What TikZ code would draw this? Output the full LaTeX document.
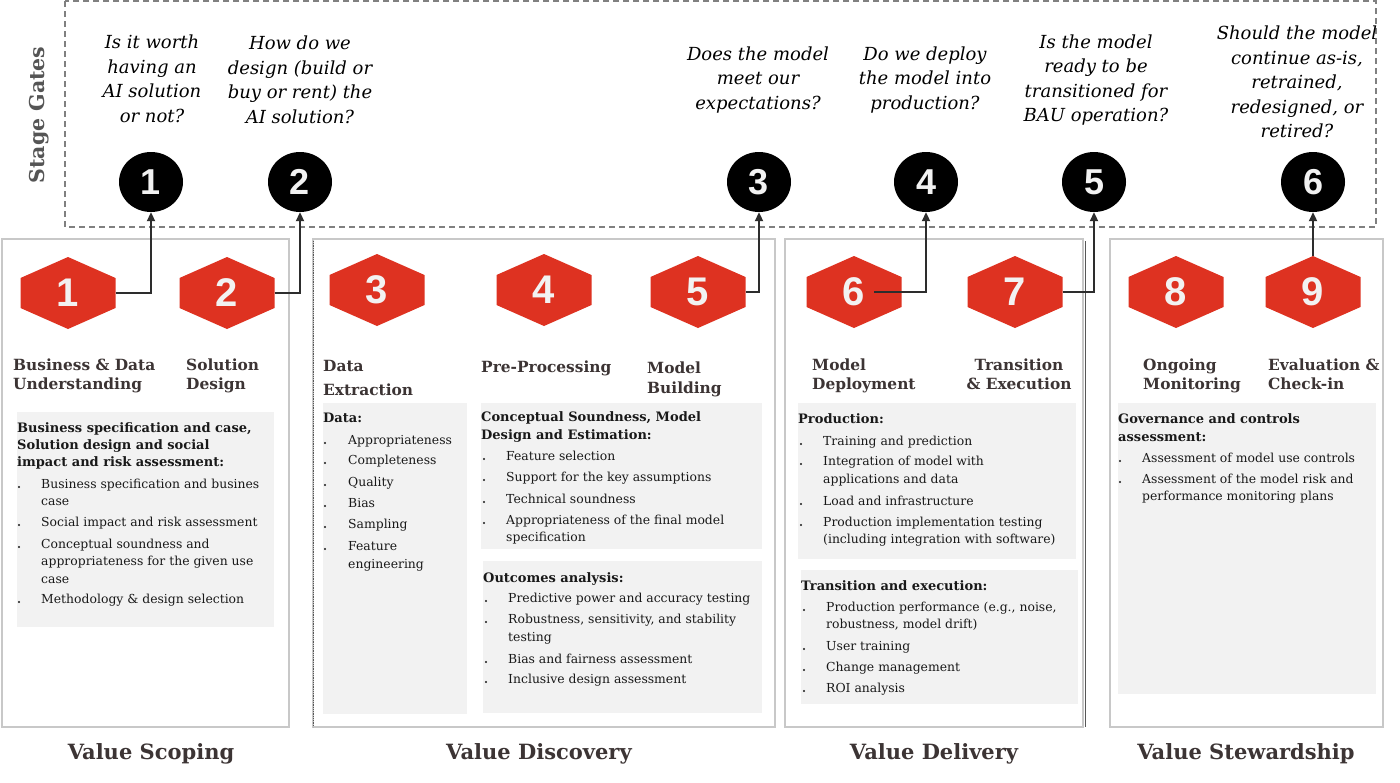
\documentclass[tikz,border=0pt]{standalone}
\usepackage{fontspec}
\setmainfont{DejaVu Serif}
\newfontfamily\numfont{Liberation Sans}
\usetikzlibrary{arrows.meta,shapes.geometric}
\definecolor{hexred}{RGB}{222,50,33}
\definecolor{boxline}{RGB}{200,200,200}
\definecolor{panel}{RGB}{242,242,242}
\definecolor{headcol}{RGB}{60,52,52}
\definecolor{textcol}{RGB}{25,25,25}
\definecolor{gatecol}{RGB}{128,128,128}
\definecolor{conncol}{RGB}{45,45,45}
\definecolor{sgcol}{RGB}{85,85,85}
\tikzset{
 phase/.style={draw=boxline, line width=2pt},
 body/.style={anchor=west, inner sep=0pt, text=textcol, font=\fontsize{12.4}{14}\selectfont, text height=9.5pt, text depth=3pt},
 bodyhead/.style={body, font=\bfseries\fontsize{13}{15}\selectfont},
 stagelabel/.style={anchor=west, inner sep=0pt, text=headcol, font=\bfseries\fontsize{15.4}{18}\selectfont, text height=11.5pt, text depth=3.5pt},
 question/.style={align=center, inner sep=0pt, text=black, font=\itshape\fontsize{18}{24.5}\selectfont},
 gate/.style={ellipse, fill=black, minimum width=64pt, minimum height=60pt, inner sep=0pt, text=white!95!black, font=\numfont\bfseries\fontsize{36}{36}\selectfont},
 hexnum/.style={minimum width=95pt, minimum height=72pt, inner sep=0pt, text=white!95!black, font=\numfont\bfseries\fontsize{40}{40}\selectfont},
 conn/.style={draw=conncol, line width=2pt, -{Triangle[length=9pt,width=8pt]}},
 phasetitle/.style={inner sep=0pt, text=headcol, font=\bfseries\fontsize{21}{24}\selectfont},
}
\newcommand{\hexa}[4]{%
  \fill[hexred] (#2,#3) ++(0,-36) -- ++(47.5,21) -- ++(0,30) -- ++(-47.5,21) -- ++(-47.5,-21) -- ++(0,-30) -- cycle;
  \node[hexnum] (#1) at (#2,#3) {#4};}
\newcommand{\blist}[4]{%
  \foreach \k/\bl/\y/\tx in {#4}{%
    \node[body] (#1\k) at (#3,\y) {\tx};
    \ifnum\bl=1 \fill[textcol] (#2,\y+2) circle (1.1pt);\fi
  }}
\begin{document}
\begin{tikzpicture}[x=1pt,y=-1pt]
\useasboundingbox (0,0) rectangle (1400,782);
\fill[white] (0,0) rectangle (1400,782);

% stage gate region
\draw[gatecol, line width=1.5pt, dash pattern=on 6pt off 4pt] (65,1) rectangle (1376,227);
\node[rotate=90, inner sep=0pt, text=sgcol, font=\bfseries\fontsize{20.5}{24}\selectfont] (sg) at (39,115) {Stage Gates};

\node[question] (q1) at (152,79) {Is it worth\\having an\\AI solution\\or not?};
\node[question] (q2) at (300,80) {How do we\\design (build or\\buy or rent) the\\AI solution?};
\node[question] (q3) at (758,80) {Does the model\\meet our\\expectations?};
\node[question] (q4) at (925,80) {Do we deploy\\the model into\\production?};
\node[question] (q5) at (1096,80) {Is the model\\ready to be\\transitioned for\\BAU operation?};
\node[question] (q6) at (1297,82) {Should the model\\continue as-is,\\retrained,\\redesigned, or\\retired?};

\node[gate] (g1) at (151,182) {1};
\node[gate] (g2) at (300,182) {2};
\node[gate] (g3) at (759,182) {3};
\node[gate] (g4) at (926,182) {4};
\node[gate] (g5) at (1094,182) {5};
\node[gate] (g6) at (1313,182) {6};

% phase boxes
\draw[phase] (2,239) rectangle (289,727);
\draw[phase] (313,239) rectangle (775,727);
\draw[phase] (785,239) rectangle (1083,727);
\draw[phase] (1110,239) rectangle (1383,727);
\draw[conncol!80, line width=0.8pt, densely dotted] (313,241) -- (313,727);
\draw[conncol!80, line width=1pt] (1085,241) -- (1085,727);

% panels
\fill[panel] (17,412) rectangle (274,627);
\fill[panel] (323,403) rectangle (467,714);
\fill[panel] (481,403) rectangle (762,549);
\fill[panel] (483,561) rectangle (762,713);
\fill[panel] (798,403) rectangle (1076,559);
\fill[panel] (801,570) rectangle (1078,704);
\fill[panel] (1118,403) rectangle (1376,694);

% hexagons
\hexa{h1}{68}{293}{1}
\hexa{h2}{227}{293}{2}
\hexa{h3}{377}{290}{3}
\hexa{h4}{544}{290}{4}
\hexa{h5}{698}{292}{5}
\hexa{h6}{854}{292}{6}
\hexa{h7}{1015}{292}{7}
\hexa{h8}{1176}{292}{8}
\hexa{h9}{1313}{292}{9}

% connectors
\draw[conn] (h1.east) -| (g1.south);
\draw[conn] (h2.east) -| (g2.south);
\draw[conn] (h5.east) -| (g3.south);
\draw[conn] ([xshift=20pt]h6.center) -| (g4.south);
\draw[conn] (h7.east) -| (g5.south);
\draw[conn] (h9.north) -- (g6.south);

% stage labels
\node[stagelabel] (l1a) at (13,366) {Business \& Data};
\node[stagelabel] (l1b) at (13,385) {Understanding};
\node[stagelabel] (l2a) at (186,366) {Solution};
\node[stagelabel] (l2b) at (186,385) {Design};
\node[stagelabel] (l3a) at (323,367) {Data};
\node[stagelabel] (l3b) at (323,391) {Extraction};
\node[stagelabel] (l4a) at (481,368) {Pre-Processing};
\node[stagelabel] (l5a) at (647,369) {Model};
\node[stagelabel] (l5b) at (647,389) {Building};
\node[stagelabel] (l6a) at (812,366) {Model};
\node[stagelabel] (l6b) at (812,385) {Deployment};
\node[stagelabel, anchor=center] (l7a) at (1019,366) {Transition};
\node[stagelabel, anchor=center] (l7b) at (1019,385) {\& Execution};
\node[stagelabel] (l8a) at (1143,366) {Ongoing};
\node[stagelabel] (l8b) at (1143,385) {Monitoring};
\node[stagelabel] (l9a) at (1268,366) {Evaluation \&};
\node[stagelabel] (l9b) at (1268,385) {Check-in};

% panel texts
\node[bodyhead] (ah1) at (17,429) {Business specification and case,};
\node[bodyhead] (ah2) at (17,446) {Solution design and social};
\node[bodyhead] (ah3) at (17,463) {impact and risk assessment:};
\blist{a}{19}{41}{{1/1/485/Business specification and busines},{2/0/502/case},{3/1/523/Social impact and risk assessment},{4/1/545/Conceptual soundness and},{5/0/562/appropriateness for the given use},{6/0/580/case},{7/1/600/Methodology \& design selection}}

\node[bodyhead] (dh1) at (323,419) {Data:};
\blist{d}{325}{348}{{1/1/441/Appropriateness},{2/1/461/Completeness},{3/1/483/Quality},{4/1/504/Bias},{5/1/525/Sampling},{6/1/547/Feature},{7/0/565/engineering}}

\node[bodyhead] (ch1) at (481,418) {Conceptual Soundness, Model};
\node[bodyhead] (ch2) at (481,436) {Design and Estimation:};
\blist{c}{484}{506}{{1/1/457/Feature selection},{2/1/478/Support for the key assumptions},{3/1/500/Technical soundness},{4/1/521/Appropriateness of the final model},{5/0/538/specification}}

\node[bodyhead] (oh1) at (483,579) {Outcomes analysis:};
\blist{o}{486}{508}{{1/1/599/Predictive power and accuracy testing},{2/1/620/Robustness, sensitivity, and stability},{3/0/638/testing},{4/1/660/Bias and fairness assessment},{5/1/680/Inclusive design assessment}}

\node[bodyhead] (ph1) at (798,420) {Production:};
\blist{p}{801}{823}{{1/1/442/Training and prediction},{2/1/462/Integration of model with},{3/0/480/applications and data},{4/1/502/Load and infrastructure},{5/1/523/Production implementation testing},{6/0/540/(including integration with software)}}

\node[bodyhead] (th1) at (801,587) {Transition and execution:};
\blist{t}{804}{826}{{1/1/608/Production performance (e.g., noise,},{2/0/625/robustness, model drift)},{3/1/647/User training},{4/1/668/Change management},{5/1/689/ROI analysis}}

\node[bodyhead] (gh1) at (1118,420) {Governance and controls};
\node[bodyhead] (gh2) at (1118,438) {assessment:};
\blist{r}{1120}{1142}{{1/1/459/Assessment of model use controls},{2/1/480/Assessment of the model risk and},{3/0/497/performance monitoring plans}}

% phase titles
\node[phasetitle] (vt1) at (151,754) {Value Scoping};
\node[phasetitle] (vt2) at (539,754) {Value Discovery};
\node[phasetitle] (vt3) at (934,754) {Value Delivery};
\node[phasetitle] (vt4) at (1246,754) {Value Stewardship};
\end{tikzpicture}
\end{document}
